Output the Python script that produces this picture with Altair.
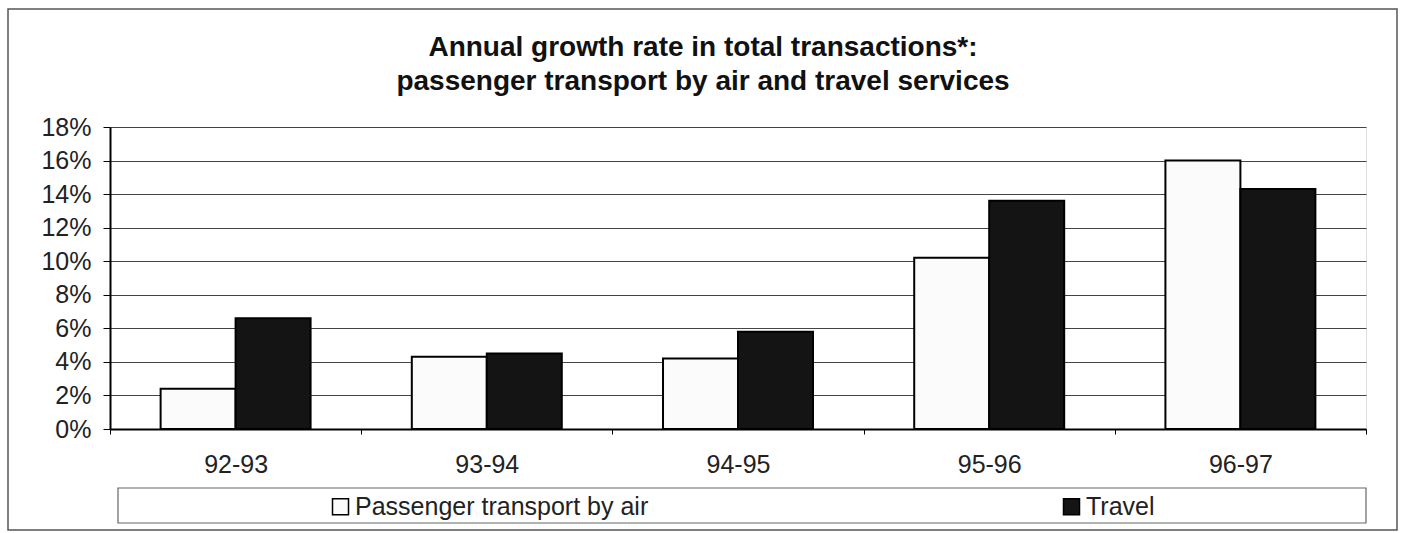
import altair as alt
import pandas as pd

periods = ["92-93", "93-94", "94-95", "95-96", "96-97"]
series = ["Passenger transport by air", "Travel"]
air = [0.024, 0.043, 0.042, 0.102, 0.160]
travel = [0.066, 0.045, 0.058, 0.136, 0.143]
y_ticks = [0, 0.02, 0.04, 0.06, 0.08, 0.10, 0.12, 0.14, 0.16, 0.18]
title_lines = ["Annual growth rate in total transactions*:",
               "passenger transport by air and travel services"]

rows = []
for p, a, t in zip(periods, air, travel):
    rows.append({"period": p, "series": series[0], "value": a})
    rows.append({"period": p, "series": series[1], "value": t})
df = pd.DataFrame(rows)

FONT = "Liberation Sans"

bars = alt.Chart(df).mark_bar(stroke="black", strokeWidth=2).encode(
    x=alt.X("period:N", sort=periods, title=None,
            scale=alt.Scale(paddingInner=0, paddingOuter=0),
            axis=alt.Axis(labelAngle=0, tickBand="extent", tickSize=5,
                          tickColor="black", labelFontSize=25, labelFont=FONT,
                          labelColor="#222", labelPadding=18, domain=True,
                          domainColor="black", domainWidth=2, grid=False)),
    xOffset=alt.XOffset("series:N", sort=series,
                        scale=alt.Scale(paddingInner=0, paddingOuter=0.675)),
    y=alt.Y("value:Q", title=None,
            scale=alt.Scale(domain=[0, 0.18], nice=False),
            axis=alt.Axis(values=y_ticks, format=".0%", tickSize=7,
                          tickColor="black", labelFontSize=25, labelFont=FONT,
                          labelColor="#222", labelPadding=12, domainColor="black",
                          domainWidth=2, grid=True, gridColor="#444",
                          gridWidth=1)),
    color=alt.Color("series:N", sort=series,
                    scale=alt.Scale(domain=series, range=["#fbfbfb", "#141414"]),
                    legend=alt.Legend(title=None, orient="none", legendX=218,
                                      legendY=367, direction="horizontal",
                                      columns=2, columnPadding=410,
                                      symbolType="square", symbolSize=256,
                                      symbolStrokeColor="black",
                                      symbolStrokeWidth=1.5, labelFontSize=25,
                                      labelFont=FONT, labelColor="#222",
                                      labelOffset=2, labelLimit=0, padding=0)),
)

box_df = pd.DataFrame({"k": [0]})
legend_box = alt.Chart(box_df).mark_rect(fill=None, stroke="#666", strokeWidth=1.2).encode(
    x=alt.value(8), x2=alt.value(1256), y=alt.value(361), y2=alt.value(396)
)
outer_box = alt.Chart(box_df).mark_rect(fill=None, stroke="#555", strokeWidth=1.5).encode(
    x=alt.value(-102), x2=alt.value(1287), y=alt.value(-118), y2=alt.value(403)
)

chart = alt.layer(outer_box, legend_box, bars).properties(
    width=1256, height=302,
    autosize=alt.AutoSizeParams(type="none"),
    padding={"left": 110, "top": 127, "right": 35, "bottom": 103},
    title=alt.TitleParams(text=title_lines, fontSize=28, font=FONT,
                          fontWeight="bold", color="#111", anchor="middle",
                          dx=-35, offset=-88, lineHeight=34),
).configure_view(stroke="black", strokeWidth=2).configure(background="white")

chart.save("out.html", embed_options={"renderer": "svg", "actions": False})
